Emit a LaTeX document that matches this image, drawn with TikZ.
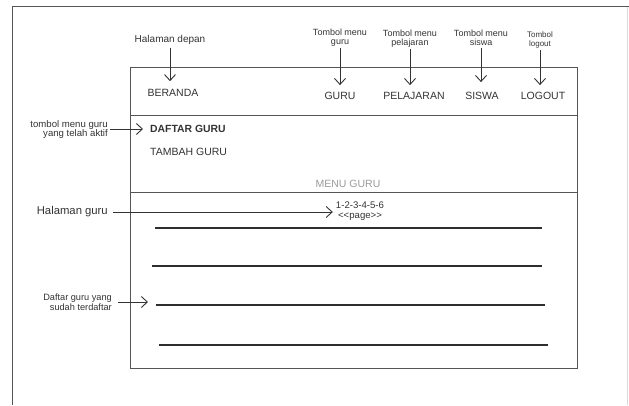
\documentclass[tikz,border=0pt]{standalone}
\usepackage{fontspec}
\setmainfont{Liberation Sans}
\usetikzlibrary{arrows.meta}
\definecolor{ink}{HTML}{333333}
\definecolor{frame}{HTML}{555555}
\definecolor{soft}{HTML}{9A9A9A}
\begin{document}
\begin{tikzpicture}[x=1pt,y=-1pt,
  txt/.style={inner sep=0pt,text=ink,font=\fontsize{10.5}{12}\selectfont},
  note/.style={inner sep=0pt,text=ink,align=center,font=\fontsize{9}{9}\selectfont},
  sidenote/.style={inner sep=0pt,text=ink,align=right,anchor=east,font=\fontsize{9.6}{9.6}\selectfont},
  arr/.style={draw=ink,line width=0.9pt,-{Straight Barb[length=6pt,width=11pt,line width=0.9pt]}},
  rowline/.style={draw=ink!90!black,line width=1.6pt},
  boxline/.style={draw=frame,line width=0.9pt}]
\useasboundingbox (0,0) rectangle (629,405);

% outer page frame
\draw[frame,line width=1.2pt] (12.5,405) -- (12.5,6.5) -- (629,6.5);
\draw[black!15,line width=0.8pt] (627.5,6.5) -- (627.5,405);

% window box with header, menu and content panels
\draw[boxline] (130,67) rectangle (577,368);
\draw[boxline] (130,115) -- (577,115);
\draw[boxline] (130,192) -- (577,192);

% header buttons
\node[txt] (beranda) at (173,93) {BERANDA};
\node[txt] (guru) at (340,96) {GURU};
\node[txt] (pel) at (414,96) {PELAJARAN};
\node[txt] (siswa) at (482,96) {SISWA};
\node[txt] (logout) at (543,96) {LOGOUT};

% header annotations
\node[note,font=\fontsize{10}{10}\selectfont] (hdepan) at (170,40) {Halaman depan};
\node[note] (guruL) at (340,37.5) {Tombol menu\\guru};
\node[note] (pelL) at (410,38.5) {Tombol menu\\pelajaran};
\node[note] (siswaL) at (481,37.5) {Tombol menu\\siswa};
\node[note,font=\fontsize{8}{9}\selectfont] (logoutL) at (540,39.5) {Tombol\\logout};

\draw[arr,shorten <=3pt,shorten >=8pt] (hdepan.south) -- (hdepan.south |- beranda.north);
\draw[arr,shorten <=2pt,shorten >=7pt] (guruL.south) -- (guruL.south |- guru.north);
\draw[arr,shorten <=2pt,shorten >=7pt] (pelL.south) -- (pelL.south |- pel.north);
\draw[arr,shorten <=2pt,shorten >=10pt] (siswaL.south) -- (siswaL.south |- siswa.north);
\draw[arr,shorten <=2pt,shorten >=7pt] (logoutL.south) -- (logoutL.south |- logout.north);

% menu panel
\node[txt,anchor=west,font=\fontsize{10.4}{12}\selectfont\bfseries] (daftar) at (150,129) {DAFTAR GURU};
\node[txt,anchor=west] (tambah) at (150,152) {TAMBAH GURU};
\node[txt,text=soft] (menuguru) at (348,184) {MENU GURU};

\node[sidenote] (aktifL) at (108,129.5) {tombol menu guru\\yang telah aktif};
\draw[arr,shorten <=2pt,shorten >=7pt] (aktifL.east |- daftar.west) -- (daftar.west);

% content panel
\node[note,font=\fontsize{9.6}{10}\selectfont] (pages) at (360,211)
  {1-2-3-4-5-6\\<\kern0pt<page>\kern0pt>};
\node[txt,anchor=east,font=\fontsize{11.3}{12}\selectfont] (hguru) at (108,212) {Halaman guru};
\draw[arr,shorten <=5pt,shorten >=3pt] (hguru.east) -- (hguru.east -| pages.west);

\draw[rowline] (155,228) -- (542,228);
\draw[rowline] (152,266) -- (542,266);
\draw[rowline] (156,305) -- (545,305);
\draw[rowline] (159,345) -- (548,345);

\node[sidenote,font=\fontsize{9.2}{10}\selectfont] (dafL) at (112,302) {Daftar guru yang\\sudah terdaftar};
\coordinate (dafT) at (148,302);
\draw[arr,shorten <=6pt] (dafL.east) -- (dafT);
\end{tikzpicture}
\end{document}
